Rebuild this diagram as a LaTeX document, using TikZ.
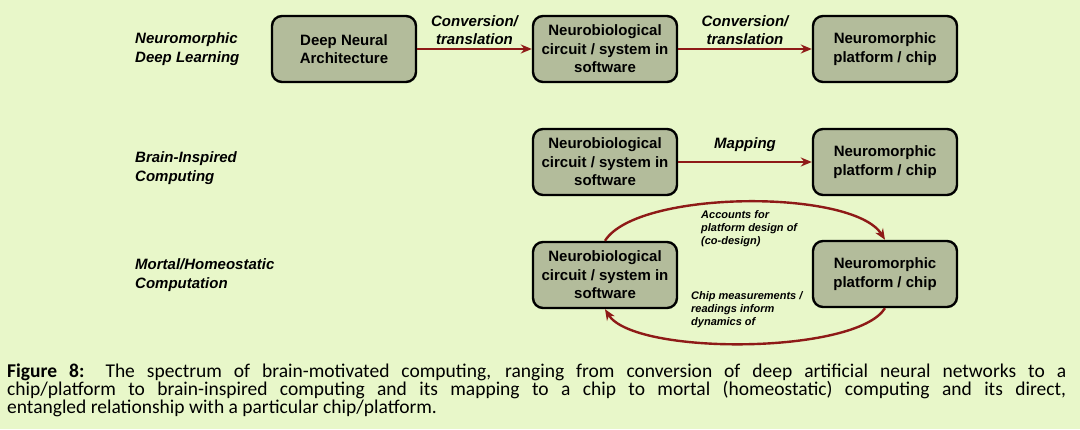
\documentclass[tikz,border=0pt]{standalone}
\usepackage{fontspec}
\setmainfont{Carlito}
\newfontfamily\arialfont{Liberation Sans}
\usetikzlibrary{arrows.meta}

\definecolor{bgGreen}{HTML}{E8F7C9}
\definecolor{boxFill}{HTML}{B3BC9B}
\definecolor{linkRed}{HTML}{8E1A17}

\tikzset{
    block/.style={draw=black, line width=2.4pt, fill=boxFill, rounded corners=10pt,
        minimum width=144pt, minimum height=66pt, align=center, inner sep=2pt,
        font=\arialfont\bfseries\fontsize{15}{18.5}\selectfont},
    rowlabel/.style={anchor=west, align=left, inner sep=0pt,
        font=\arialfont\bfseries\itshape\fontsize{15}{19}\selectfont},
    linklabel/.style={align=center, text=black,
        font=\arialfont\bfseries\itshape\fontsize{15}{18.3}\selectfont},
    notelabel/.style={anchor=west, align=left, inner sep=0pt,
        font=\arialfont\bfseries\itshape\fontsize{11}{13}\selectfont},
    link/.style={draw=linkRed, line width=2.4pt, -{Stealth[length=11pt,width=9pt]}}
}

\begin{document}
\begin{tikzpicture}[x=1pt, y=1pt]

    % Background and page size
    \fill[bgGreen] (0,0) rectangle (1080,429);
    \useasboundingbox (0,0) rectangle (1080,429);

    % ==========================================
    % Row labels
    % ==========================================
    \node[rowlabel] (lblDeep)   at (135,380) {Neuromorphic\\Deep Learning};
    \node[rowlabel] (lblBrain)  at (135,261) {Brain-Inspired\\Computing};
    \node[rowlabel] (lblMortal) at (135,154) {Mortal/Homeostatic\\Computation};

    % ==========================================
    % Row 1: Neuromorphic deep learning
    % ==========================================
    \node[block] (dna)  at (344,380) {Deep Neural\\Architecture};
    \node[block] (soft1) at (605,380) {Neurobiological\\circuit / system in\\software};
    \node[block] (chip1) at (885,380) {Neuromorphic\\platform / chip};

    \draw[link] (dna) -- (soft1) node[linklabel, midway, above] {Conversion/\\translation};
    \draw[link] (soft1) -- (chip1) node[linklabel, midway, above] {Conversion/\\translation};

    % ==========================================
    % Row 2: Brain-inspired computing
    % ==========================================
    \node[block] (soft2) at (605,267) {Neurobiological\\circuit / system in\\software};
    \node[block] (chip2) at (885,267) {Neuromorphic\\platform / chip};

    \draw[link] (soft2) -- (chip2) node[linklabel, midway, above=6pt] {Mapping};

    % ==========================================
    % Row 3: Mortal / homeostatic computation (loop)
    % ==========================================
    \node[block] (soft3) at (605,154) {Neurobiological\\circuit / system in\\software};
    \node[block] (chip3) at (885,155) {Neuromorphic\\platform / chip};

    \draw[link] (soft3.north) to[out=58, in=122, looseness=0.55] (chip3.north);
    \draw[link] (chip3.south) to[out=-122, in=-58, looseness=0.5] (soft3.south);

    \node[notelabel] (noteDesign) at (701,200) {Accounts for\\platform design of\\(co-design)};
    \node[notelabel] (noteChip)   at (691,119) {Chip measurements /\\readings inform\\dynamics of};

    % ==========================================
    % Caption
    % ==========================================
    \node[anchor=north west, inner sep=0pt, text width=1059pt, align=justify,
        font=\fontsize{19.5}{18}\selectfont] (caption) at (7,65)
        {\textbf{Figure 8:} The spectrum of brain-motivated computing, ranging from conversion of deep artificial neural networks to a\linebreak
        chip/platform to brain-inspired computing and its mapping to a chip to mortal (homeostatic) computing and its direct,\linebreak
        entangled relationship with a particular chip/platform.};

\end{tikzpicture}
\end{document}
